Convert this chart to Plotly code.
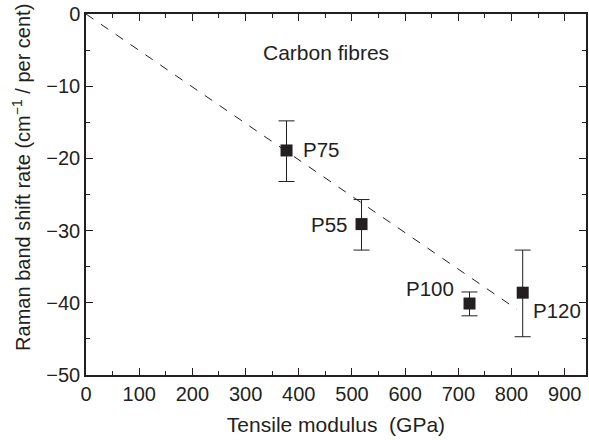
import plotly.graph_objects as go

modulus = [377, 518, 721, 821]
shift_rate = [-18.9, -29.1, -40.1, -38.6]
err_plus = [4.1, 3.4, 1.6, 5.9]
err_minus = [4.3, 3.6, 1.7, 6.1]
names = ["P75", "P55", "P100", "P120"]
label_dx = [14, -13, -14, 8]
label_y = [-18.8, -29.1, -38.0, -41.0]
label_anchor = ["left", "right", "right", "left"]

fit_x = [0, 810]
fit_y = [0, -40.9]

ink = "#231f20"
font = "Liberation Sans, Arial, sans-serif"

fig = go.Figure()
fig.add_trace(go.Scatter(x=fit_x, y=fit_y, mode="lines",
                         line=dict(color=ink, width=1, dash="dash"),
                         showlegend=False, hoverinfo="skip"))
fig.add_trace(go.Scatter(x=modulus, y=shift_rate, mode="markers",
                         marker=dict(symbol="square", size=12, color=ink),
                         error_y=dict(type="data", array=err_plus, arrayminus=err_minus,
                                      color=ink, thickness=1, width=8),
                         showlegend=False))

for n, x, y, dx, a in zip(names, modulus, label_y, label_dx, label_anchor):
    fig.add_annotation(x=x, y=y, text=n, showarrow=False, xanchor=a, yanchor="middle",
                       xshift=dx, font=dict(size=20.5, color=ink, family=font))

fig.add_annotation(x=452, y=-5.3, text="Carbon fibres", showarrow=False,
                   xanchor="center", yanchor="middle",
                   font=dict(size=21, color=ink, family=font))

# y-axis title (placed as rotated text, slightly above plot centre as in the reference)
fig.add_annotation(xref="paper", yref="paper", x=0, y=0.546, xshift=-64,
                   text="Raman band shift rate (cm<sup>−1</sup> / per cent)",
                   textangle=-90, showarrow=False, xanchor="center", yanchor="middle",
                   font=dict(size=20, color=ink, family=font))

axis_common = dict(showgrid=False, zeroline=False, showline=True, linecolor=ink,
                   linewidth=1.5, ticks="inside", ticklen=7, tickwidth=1.2,
                   tickcolor=ink, mirror="allticks",
                   tickfont=dict(size=20, color=ink, family=font))

fig.update_xaxes(range=[0, 940], dtick=100, tick0=0,
                 minor=dict(dtick=50, ticks="inside", ticklen=4, tickcolor=ink, tickwidth=1),
                 title=dict(text="Tensile modulus  (GPa)", standoff=14,
                            font=dict(size=21, color=ink, family=font)),
                 **axis_common)
fig.update_yaxes(range=[-50, 0], dtick=10, tick0=0,
                 minor=dict(dtick=5, ticks="inside", ticklen=4, tickcolor=ink, tickwidth=1),
                 **axis_common)

fig.update_layout(width=589, height=440, margin=dict(l=86, r=1, t=14, b=65),
                  plot_bgcolor="white", paper_bgcolor="white")

fig.write_html("out.html")
